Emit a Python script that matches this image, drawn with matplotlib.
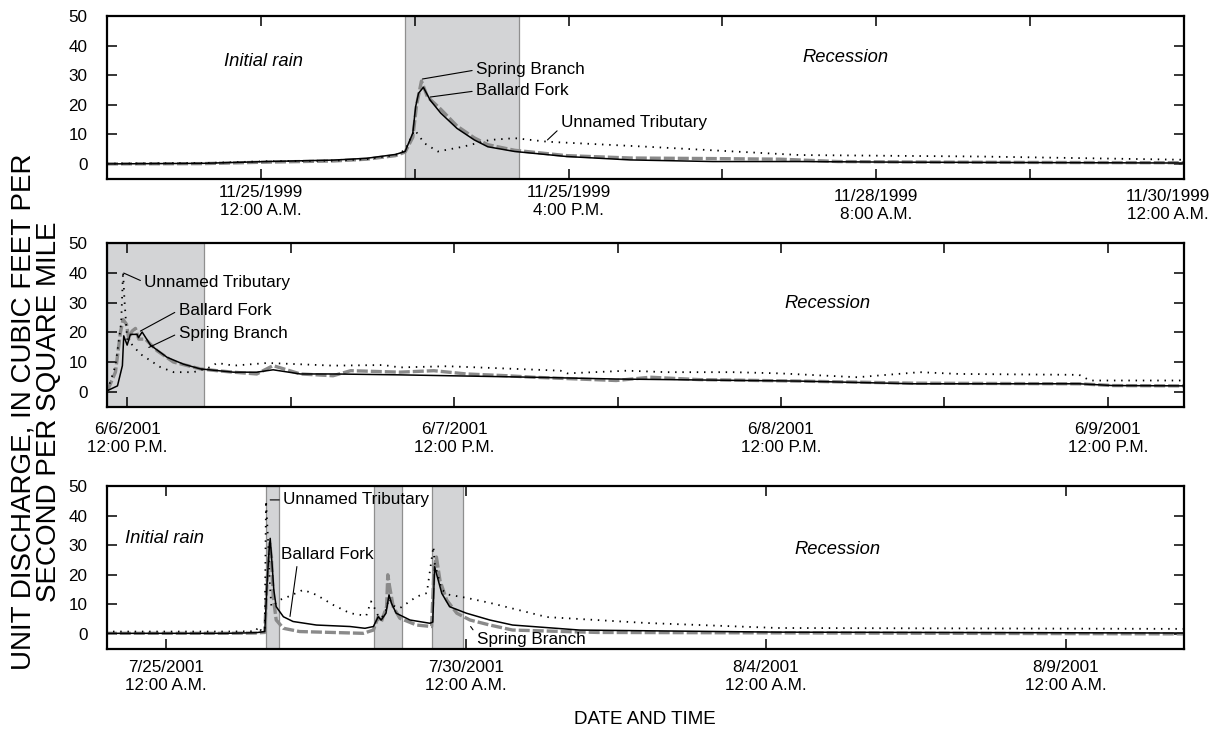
import numpy as np
import matplotlib
matplotlib.use('Agg')
import matplotlib.pyplot as plt
from matplotlib.transforms import ScaledTranslation

plt.rcParams['font.family'] = ['Liberation Sans', 'DejaVu Sans']

# ---- November 1999 storm (hours from 11/25/1999 12:00 A.M.) ----
nov_ballard_x = [-8, -3, 0.3, 3.8, 5.5, 7.0, 7.5, 7.9, 8.05, 8.2, 8.45, 8.8, 9.35, 10.2, 11.1, 11.8, 13.2, 15.9, 19.2, 23.5, 28, 33, 38, 43, 48]
nov_ballard_y = [0, 0.2, 0.8, 1.3, 1.9, 3.2, 4.2, 10.4, 19.4, 23.9, 25.9, 21.6, 17.2, 12, 8.1, 5.8, 4.2, 2.5, 1.35, 0.8, 0.8, 0.6, 0.5, 0.4, 0.3]
nov_spring_x = [-8, -3, 0.3, 3.8, 5.5, 7.0, 7.5, 7.9, 8.1, 8.35, 8.66, 9.35, 10.2, 11.1, 11.8, 13.2, 15.9, 19.2, 23.5, 27, 30, 35, 40, 48]
nov_spring_y = [0, 0.1, 0.6, 1.0, 1.6, 2.8, 4.0, 9, 20, 28, 22.7, 18.5, 12.8, 8.8, 6.5, 4.6, 2.8, 2.0, 1.8, 1.6, 0.8, 0.6, 0.5, 0.4]
nov_unnamed_x = [-8, -3, 0.3, 3.8, 5.5, 7.0, 7.5, 8.0, 8.5, 9.2, 10.5, 11.9, 13.2, 14.9, 20.1, 28, 37.4, 48]
nov_unnamed_y = [0.1, 0.3, 0.9, 1.1, 1.6, 3.0, 4.7, 11.5, 7.0, 4.2, 5.8, 8.1, 8.7, 7.5, 5.8, 3.0, 2.5, 1.4]
nov_shade = [(7.48, 13.4)]
nov_ticks = [0, 8, 16, 24, 32, 40, 48]
nov_labels = ['11/25/1999\n12:00 A.M.', '', '11/25/1999\n4:00 P.M.', '', '11/28/1999\n8:00 A.M.', '', '11/30/1999\n12:00 A.M.']

# ---- June 2001 storm (hours from 6/6/2001 12:00 P.M.) ----
jun_ballard_x = [-1.47, -0.73, -0.37, -0.27, -0.02, 0.22, 0.71, 0.81, 1.08, 1.69, 2.91, 4.11, 5.36, 7.78, 9.5, 10.7, 12.7, 15.1, 20, 29.8, 35.9, 49.4, 57.7, 69.9, 72.4, 77.6]
jun_ballard_y = [0.4, 2.0, 8.8, 18.8, 15.7, 19.3, 19.3, 18.2, 20.1, 15.7, 11.6, 9.3, 7.7, 6.6, 6.6, 7.4, 6.0, 6.0, 5.7, 4.9, 4.3, 3.6, 2.7, 2.7, 2.1, 2.0]
jun_spring_x = [-1.47, -0.88, -0.51, -0.32, -0.07, 0.1, 0.34, 0.59, 0.83, 1.32, 2.18, 3.38, 5.36, 6.58, 7.78, 9.5, 10.7, 12.7, 15.1, 16.4, 20, 22.5, 24.9, 27.9, 29.8, 35.9, 38.4, 42, 49.4, 57.7, 69.9, 72.4, 77.6]
jun_spring_y = [0.4, 6.6, 20, 24.3, 22.7, 17.7, 20.4, 21.3, 17.7, 17.7, 13.8, 10, 7.7, 7.1, 6.6, 6.0, 8.8, 6.0, 5.4, 7.1, 6.6, 7.1, 6.0, 5.4, 4.9, 3.8, 4.9, 4.1, 3.6, 2.9, 2.7, 2.1, 2.0]
jun_unnamed_x = [-1.47, -0.88, -0.46, -0.32, -0.22, -0.02, 0.95, 2.42, 3.4, 4.85, 6.1, 6.58, 7.8, 10.3, 15.1, 18.8, 20, 23.5, 27.4, 31.8, 32.3, 36.7, 39.6, 44.5, 47.9, 53.6, 58.2, 61.1, 69.9, 70.7, 77.6]
jun_unnamed_y = [0.4, 8.8, 23.2, 40.4, 31, 17.7, 12.7, 8.3, 6.6, 6.6, 8.3, 9.7, 8.8, 9.7, 8.8, 9.0, 8.2, 8.6, 7.9, 7.1, 6.2, 7.1, 6.6, 6.6, 6.2, 4.9, 6.6, 6.0, 5.7, 3.8, 3.8]
jun_shade = [(-1.5, 5.65)]
jun_ticks = [0, 12, 24, 36, 48, 60, 72]
jun_labels = ['6/6/2001\n12:00 P.M.', '', '6/7/2001\n12:00 P.M.', '', '6/8/2001\n12:00 P.M.', '', '6/9/2001\n12:00 P.M.']

# ---- July-August 2001 storms (days from 7/25/2001 12:00 A.M.) ----
jul_ballard_x = [-1, 1.0, 1.5, 1.65, 1.69, 1.72, 1.74, 1.77, 1.80, 1.84, 1.96, 2.12, 2.51, 3.07, 3.32, 3.46, 3.54, 3.59, 3.67, 3.72, 3.76, 3.84, 4.07, 4.4, 4.45, 4.48, 4.6, 4.73, 5.01, 5.4, 5.78, 6.9, 10.2, 17]
jul_ballard_y = [0.2, 0.2, 0.4, 0.8, 18, 27.8, 32.3, 23.9, 14.9, 9.2, 5.8, 4.2, 3.0, 2.5, 1.9, 2.5, 5.8, 4.7, 7.0, 13.2, 10.4, 7.0, 4.7, 3.6, 4.0, 22.7, 13.7, 9.2, 7.0, 4.7, 3.0, 1.3, 0.6, 0.3]
jul_spring_x = [-1, 1.0, 1.5, 1.65, 1.68, 1.71, 1.73, 1.76, 1.79, 1.84, 1.96, 2.23, 3.29, 3.46, 3.54, 3.59, 3.68, 3.70, 3.73, 3.79, 3.9, 4.18, 4.43, 4.47, 4.51, 4.57, 4.68, 4.85, 5.07, 5.4, 5.78, 7.2, 17]
jul_spring_y = [0.2, 0.2, 0.3, 0.5, 14.9, 23.9, 30.6, 26, 12.6, 4.7, 1.9, 0.8, 0.2, 1.3, 5.8, 4.0, 9.2, 20, 16, 9.2, 5.3, 3.0, 2.5, 21.6, 26, 18, 11.5, 7.0, 4.7, 3.0, 1.3, 0.5, 0.0]
jul_unnamed_x = [-1, 1.0, 1.5, 1.54, 1.6, 1.65, 1.67, 1.71, 1.73, 1.76, 1.9, 2.04, 2.29, 2.51, 2.79, 3.07, 3.34, 3.42, 3.48, 3.53, 3.59, 3.65, 3.72, 3.8, 3.9, 4.18, 4.35, 4.46, 4.48, 4.6, 4.73, 5.01, 5.4, 6.35, 8.0, 10.2, 17]
jul_unnamed_y = [0.8, 0.8, 0.9, 2.5, 0.8, 1.5, 45, 29.5, 18, 9.2, 11.5, 12.6, 14.9, 13.2, 9.8, 7.0, 6.1, 11.0, 8.7, 6.5, 5.3, 7.0, 12, 9.5, 8.7, 12.6, 13.8, 29.5, 24, 14.9, 13.2, 12.2, 10.5, 5.7, 3.7, 2.0, 1.7]
jul_shade = [(1.67, 1.88), (3.47, 3.93), (4.43, 4.95)]
jul_ticks = [0, 5, 10, 15]
jul_labels = ['7/25/2001\n12:00 A.M.', '7/30/2001\n12:00 A.M.', '8/4/2001\n12:00 A.M.', '8/9/2001\n12:00 A.M.']

yticks = [0, 10, 20, 30, 40, 50]

FS_TICK = 12.3
FS_NOTE = 12.3
FS_PHASE = 13.2


def DrawPanel(ax, spring, ballard, unnamed, shades, xlim, ticks, labels, pad):
    '''Draw one storm panel with the three gages and shaded storm periods.'''
    for s0, s1 in shades:
        ax.axvspan(s0, s1, facecolor='#d3d4d6', edgecolor='#8f8f8f', lw=0.9, zorder=0)
    ax.plot(spring[0], spring[1], color='#8a8a8a', lw=2.4, linestyle=(0, (3.3, 0.9)), zorder=2)
    ax.plot(ballard[0], ballard[1], color='k', lw=1.1, zorder=3)
    ax.plot(unnamed[0], unnamed[1], color='k', lw=1.3, linestyle=(0, (0.8, 3.2)), zorder=4)
    ax.set_xlim(xlim)
    ax.set_ylim(-5.1, 50)
    ax.set_yticks(yticks)
    ax.set_xticks(ticks)
    ax.set_xticklabels(labels, fontsize=FS_TICK, linespacing=1.25)
    ax.tick_params(axis='x', direction='in', length=7, width=1.1, top=True, pad=pad)
    ax.tick_params(axis='y', direction='in', length=7, width=1.1, right=True, pad=14,
                   labelsize=FS_TICK)
    for sp in ax.spines.values():
        sp.set_linewidth(1.6)


def Note(ax, text, xy, xytext, relpos=(0, 0.5), va='center'):
    ax.annotate(text, xy=xy, xytext=xytext, fontsize=FS_NOTE, ha='left', va=va,
                arrowprops=dict(arrowstyle='-', color='k', lw=0.8, relpos=relpos,
                                shrinkA=1, shrinkB=0))


fig = plt.figure(figsize=(12.15, 7.39), dpi=100)
left, width = 107 / 1215, 1077 / 1215
ax1 = fig.add_axes([left, 1 - 179 / 739, width, 163 / 739])
ax2 = fig.add_axes([left, 1 - 407 / 739, width, 164 / 739])
ax3 = fig.add_axes([left, 1 - 649 / 739, width, 163 / 739])

DrawPanel(ax1, (nov_spring_x, nov_spring_y), (nov_ballard_x, nov_ballard_y),
          (nov_unnamed_x, nov_unnamed_y), nov_shade, (-8, 48), nov_ticks, nov_labels, 4.5)
DrawPanel(ax2, (jun_spring_x, jun_spring_y), (jun_ballard_x, jun_ballard_y),
          (jun_unnamed_x, jun_unnamed_y), jun_shade, (-1.5, 77.6), jun_ticks, jun_labels, 11)
DrawPanel(ax3, (jul_spring_x, jul_spring_y), (jul_ballard_x, jul_ballard_y),
          (jul_unnamed_x, jul_unnamed_y), jul_shade, (-0.98, 16.97), jul_ticks, jul_labels, 8)

# the last two labels of the top panel sit a little lower, the last one shifted left
lbls = ax1.get_xticklabels()
lbls[4].set_transform(lbls[4].get_transform() + ScaledTranslation(0, -4 / 100, fig.dpi_scale_trans))
lbls[6].set_transform(lbls[6].get_transform() + ScaledTranslation(-16 / 100, -4 / 100, fig.dpi_scale_trans))

# phase labels
ax1.text(0.16, 34.5, 'Initial rain', style='italic', fontsize=FS_PHASE, ha='center', va='center')
ax1.text(30.4, 36.1, 'Recession', style='italic', fontsize=FS_PHASE, ha='center', va='center')
ax2.text(51.4, 29.7, 'Recession', style='italic', fontsize=FS_PHASE, ha='center', va='center')
ax3.text(-0.02, 32.1, 'Initial rain', style='italic', fontsize=FS_PHASE, ha='center', va='center')
ax3.text(11.2, 28.7, 'Recession', style='italic', fontsize=FS_PHASE, ha='center', va='center')

# gage labels
Note(ax1, 'Spring Branch', (8.4, 28.7), (11.2, 31.8))
Note(ax1, 'Ballard Fork', (8.8, 22.6), (11.2, 24.7))
Note(ax1, 'Unnamed Tributary', (14.9, 8.1), (15.6, 13.9), relpos=(0, 0.2))

Note(ax2, 'Unnamed Tributary', (-0.27, 39.9), (1.25, 36.8))
Note(ax2, 'Ballard Fork', (0.95, 20.4), (3.77, 27.4))
Note(ax2, 'Spring Branch', (1.57, 14.9), (3.77, 19.7))

Note(ax3, 'Unnamed Tributary', (1.74, 45.3), (1.96, 45.3))
Note(ax3, 'Ballard Fork', (2.07, 5.9), (1.92, 26.7), relpos=(0.18, 0.1))
Note(ax3, 'Spring Branch', (5.08, 2.5), (5.18, -1.8), relpos=(0, 0.8))

fig.text(36 / 1215, 1 - 412 / 739, 'UNIT DISCHARGE, IN CUBIC FEET PER\nSECOND PER SQUARE MILE',
         rotation=90, ha='center', va='center', fontsize=20, linespacing=0.98,
         multialignment='center')
fig.text(645 / 1215, 1 - 720 / 739, 'DATE AND TIME', ha='center', va='center', fontsize=13.5)

fig.savefig('out.png', dpi=100)
